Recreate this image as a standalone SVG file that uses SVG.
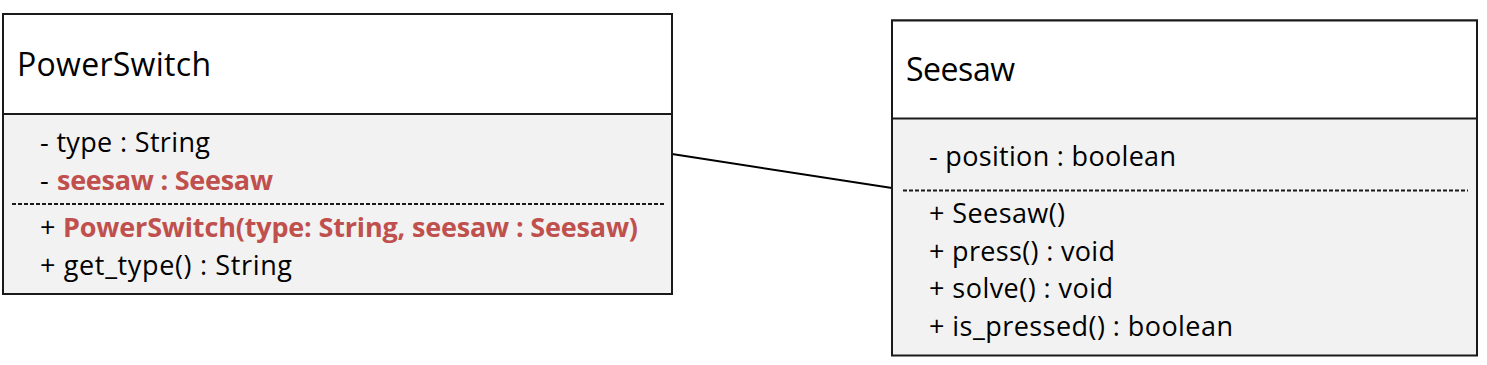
<svg xmlns="http://www.w3.org/2000/svg" width="1487" height="365" viewBox="0 0 1487 365">
<style>
.box{fill:#F2F2F2;stroke:#1a1a1a;stroke-width:2}
.head{fill:#FFFFFF;stroke:#1a1a1a;stroke-width:2}
.dash{stroke:#1a1a1a;stroke-width:2;stroke-dasharray:4 2;fill:none}
.title{font-family:"Open Sans","Liberation Sans",sans-serif;font-size:32px;fill:#000}
.t{font-family:"Open Sans","Liberation Sans",sans-serif;font-size:27px;fill:#000}
.red{fill:#C0504D;font-weight:bold}
.conn{stroke:#000;stroke-width:2;fill:none}
</style>
<rect width="1487" height="365" fill="#FFFFFF"/>
<g id="connectors">
<line class="conn" x1="672" y1="154" x2="892" y2="188"/>
</g>
<g id="PowerSwitch">
<rect class="box" x="3" y="14" width="669" height="280"/>
<rect class="head" x="3" y="14" width="669" height="100"/>
<text class="title" x="17" y="76" textLength="194">PowerSwitch</text>
<text class="t" x="40" y="152" textLength="170">- type : String</text>
<text class="t" y="189.5"><tspan x="40">- </tspan><tspan class="red" x="57" textLength="216">seesaw : Seesaw</tspan></text>
<line class="dash" x1="12" y1="204" x2="664" y2="204"/>
<text class="t" y="237"><tspan x="40">+ </tspan><tspan class="red" x="63" textLength="575">PowerSwitch(type: String, seesaw : Seesaw)</tspan></text>
<text class="t" x="40" y="275" textLength="252">+ get_type() : String</text>
</g>
<g id="Seesaw">
<rect class="box" x="892" y="20.5" width="585" height="335"/>
<rect class="head" x="892" y="20.5" width="585" height="98"/>
<text class="title" x="906" y="81" textLength="109">Seesaw</text>
<text class="t" x="929" y="166" textLength="247">- position : boolean</text>
<line class="dash" x1="903" y1="190.5" x2="1468" y2="190.5"/>
<text class="t" x="929" y="222.5" textLength="136">+ Seesaw()</text>
<text class="t" x="929" y="260.5" textLength="186">+ press() : void</text>
<text class="t" x="929" y="298" textLength="184">+ solve() : void</text>
<text class="t" x="929" y="336" textLength="304">+ is_pressed() : boolean</text>
</g>
</svg>
